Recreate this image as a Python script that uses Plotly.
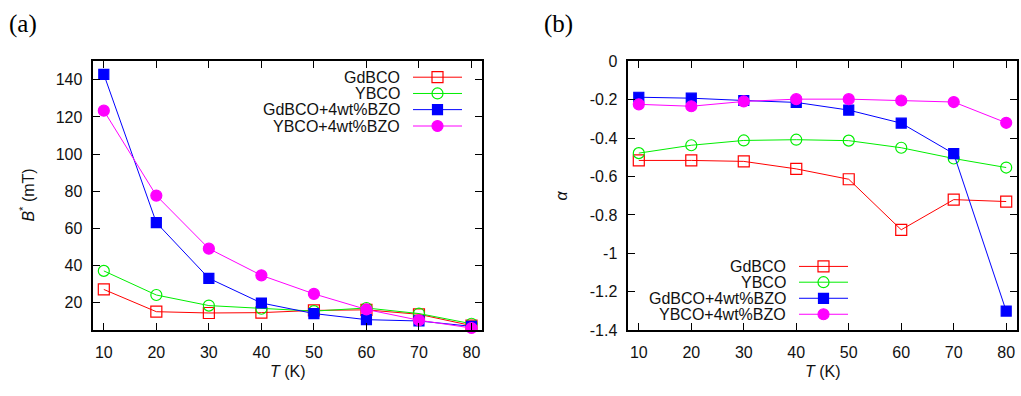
import plotly.graph_objects as go

# Temperatures (K)
T = [10, 20, 30, 40, 50, 60, 70, 80]

# Characteristic field B* (mT)
bstar_gdbco = [27, 15, 14.3, 14.5, 15.7, 16, 13.6, 7.5]
bstar_ybco = [37, 24, 18.3, 16.6, 15.3, 17, 14, 8.5]
bstar_gdbco_bzo = [143, 63, 33, 19.7, 14, 10.7, 10, 7.1]
bstar_ybco_bzo = [123.4, 77.6, 49, 34.6, 24.6, 16.2, 10.4, 6.2]

# Exponent alpha
alpha_gdbco = [-0.516, -0.516, -0.521, -0.56, -0.614, -0.877, -0.72, -0.73]
alpha_ybco = [-0.478, -0.437, -0.412, -0.408, -0.413, -0.45, -0.506, -0.553]
alpha_gdbco_bzo = [-0.187, -0.192, -0.204, -0.214, -0.254, -0.322, -0.481, -1.3]
alpha_ybco_bzo = [-0.224, -0.234, -0.209, -0.197, -0.197, -0.204, -0.212, -0.32]

names = ["GdBCO", "YBCO", "GdBCO+4wt%BZO", "YBCO+4wt%BZO"]
colors = ["#ff0000", "#00ee00", "#0000ff", "#ff00ff"]
symbols = ["square-open", "circle-open", "square", "circle"]
sizes = [11, 11, 10, 11]

x_ticks = [10, 20, 30, 40, 50, 60, 70, 80]
b_ticks = [20, 40, 60, 80, 100, 120, 140]
a_ticks = [0, -0.2, -0.4, -0.6, -0.8, -1, -1.2, -1.4]
a_ticklabels = ["0", "-0.2", "-0.4", "-0.6", "-0.8", "-1", "-1.2", "-1.4"]

W, H = 1021, 396
FONT = "Liberation Sans, Arial, sans-serif"
FS = 16

fig = go.Figure()

panels = [
    ("x", "y", [bstar_gdbco, bstar_ybco, bstar_gdbco_bzo, bstar_ybco_bzo]),
    ("x2", "y2", [alpha_gdbco, alpha_ybco, alpha_gdbco_bzo, alpha_ybco_bzo]),
]
for xa, ya, series in panels:
    for vals, name, col, sym, sz in zip(series, names, colors, symbols, sizes):
        fig.add_trace(go.Scatter(
            x=T, y=vals, xaxis=xa, yaxis=ya, name=name, mode="lines+markers",
            line=dict(color=col, width=1),
            marker=dict(symbol=sym, size=sz, color=col, line=dict(color=col, width=1.2)),
            cliponaxis=False, showlegend=False,
        ))

# Key boxes: text on the left, line sample with marker on the right
keys = [
    dict(text_x=402, line_x0=413, line_x1=462, rows=[72.3, 89.3, 106.2, 123.3]),
    dict(text_x=788, line_x0=799, line_x1=848, rows=[270, 286.5, 303.3, 320]),
]
for key in keys:
    mid = (key["line_x0"] + key["line_x1"]) / 2
    for row, name, col, sym, sz in zip(key["rows"], names, colors, symbols, sizes):
        fig.add_trace(go.Scatter(
            x=[key["line_x0"], key["line_x1"]], y=[row, row], xaxis="x3", yaxis="y3",
            mode="lines", line=dict(color=col, width=1), showlegend=False, hoverinfo="skip",
        ))
        fig.add_trace(go.Scatter(
            x=[mid], y=[row], xaxis="x3", yaxis="y3", mode="markers",
            marker=dict(symbol=sym, size=sz, color=col, line=dict(color=col, width=1.2)),
            showlegend=False, hoverinfo="skip",
        ))
        fig.add_annotation(
            x=key["text_x"], y=row, xref="x3", yref="y3", text=name, showarrow=False,
            xanchor="right", yanchor="middle", font=dict(family=FONT, size=FS, color="#111"),
        )

axis_common = dict(
    showgrid=False, zeroline=False, showline=True, linecolor="black", linewidth=1.5,
    mirror="allticks", ticks="inside", ticklen=7, tickwidth=1.2, tickcolor="black",
    tickfont=dict(family=FONT, size=FS, color="#111"),
)

ydom = [(H - 336.7) / H, (H - 55.7) / H]

fig.update_layout(
    width=W, height=H, margin=dict(l=0, r=0, t=0, b=0),
    paper_bgcolor="white", plot_bgcolor="rgba(0,0,0,0)",
    xaxis=dict(domain=[93.3 / W, 482 / W], range=[8, 82], tickvals=x_ticks,
               anchor="y", ticklabelstandoff=7, **axis_common),
    yaxis=dict(domain=ydom, range=[5, 150], tickvals=b_ticks, anchor="x",
               ticklabelstandoff=6, **axis_common),
    xaxis2=dict(domain=[628.3 / W, 1016.7 / W], range=[8, 82], tickvals=x_ticks,
                anchor="y2", ticklabelstandoff=7, **axis_common),
    yaxis2=dict(domain=ydom, range=[-1.4, 0], tickvals=a_ticks, ticktext=a_ticklabels,
                anchor="x2", ticklabelstandoff=6, **axis_common),
    xaxis3=dict(domain=[0, 1], range=[0, W], visible=False, anchor="y3", fixedrange=True),
    yaxis3=dict(domain=[0, 1], range=[H, 0], visible=False, anchor="x3", fixedrange=True),
)

# Axis titles and panel labels
label_font = dict(family=FONT, size=FS, color="#111")
texts = [
    dict(x=287.7, y=379.5, text="<i>T</i> (K)", textangle=0),
    dict(x=822.5, y=379.5, text="<i>T</i> (K)", textangle=0),
    dict(x=27, y=196, text="<i>B</i><sup>*</sup> (mT)", textangle=-90),
    dict(x=562, y=196, text="<i>α</i>", textangle=-90),
]
for t in texts:
    fig.add_annotation(x=t["x"], y=t["y"], xref="x3", yref="y3", text=t["text"],
                       textangle=t["textangle"], showarrow=False,
                       xanchor="center", yanchor="middle", font=label_font)

for txt, x in [("(a)", 7), ("(b)", 542)]:
    fig.add_annotation(x=x, y=17, xref="x3", yref="y3", text=txt, showarrow=False,
                       xanchor="left", yanchor="middle",
                       font=dict(family="Liberation Serif, Times New Roman, serif", size=25, color="black"))

fig.write_html("out.html")
